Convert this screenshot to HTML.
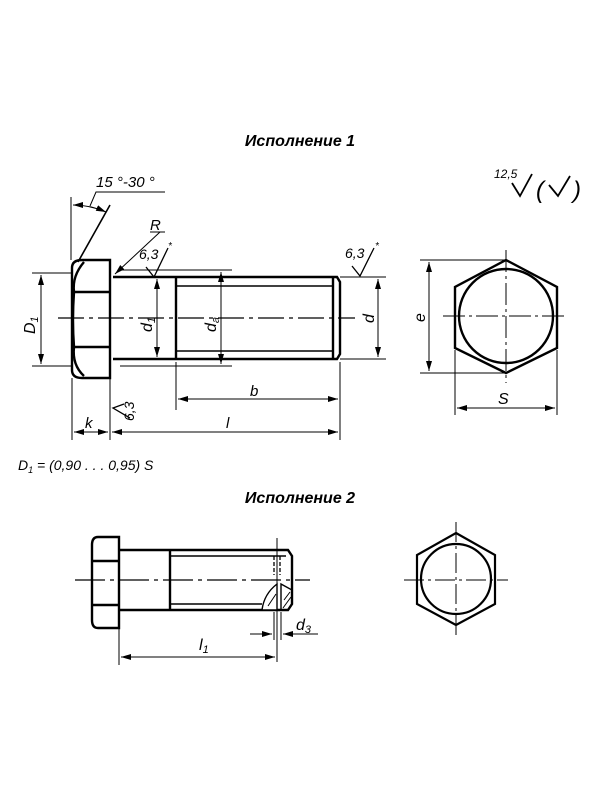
<!DOCTYPE html>
<html><head><meta charset="utf-8"><style>
html,body{margin:0;padding:0;background:#fff;}
svg{display:block}
text{font-family:"Liberation Sans",sans-serif;font-style:italic;fill:#000}
</style></head><body>
<svg width="600" height="785" viewBox="0 0 600 785" xmlns="http://www.w3.org/2000/svg">
<defs>
<marker id="a" viewBox="0 0 10 6" refX="10" refY="3" markerWidth="10" markerHeight="6" orient="auto-start-reverse" markerUnits="userSpaceOnUse"><path d="M0,0L10,3L0,6z" fill="#000"/></marker>
</defs>
<text x="300" y="146" font-size="16" font-weight="bold" text-anchor="middle">Исполнение 1</text>
<text x="300" y="503" font-size="16" font-weight="bold" text-anchor="middle">Исполнение 2</text>
<!-- roughness -->
<text x="494" y="178" font-size="12">12,5</text>
<path d="M512,183 L520,196 L532,174" fill="none" stroke="#000" stroke-width="1.8"/>
<text x="536" y="198" font-size="24">(</text>
<path d="M549,185 L558,196 L570,176" fill="none" stroke="#000" stroke-width="1.8"/>
<text x="573" y="198" font-size="24">)</text>

<g fill="none" stroke="#000">
<!-- view1 bolt -->
<g stroke-width="2.4">
<path d="M82,260 L110,260 L110,378 L82,378 Q72,378 72,370 L72,268 Q72,260 82,260Z"/>
<path d="M72,292 L110,292 M72,347 L110,347"/>
<path d="M74,292 Q72,276 84,262 M74,292 Q72,320 74,347 M74,347 Q72,365 84,376"/>
<path d="M113,277 L337,277 L340,282 L340,354 L337,359 L113,359"/>
<path d="M176,277 L176,359"/>
<path d="M333,277 L333,359"/>
</g>
<path d="M176,286 L333,286 M176,351 L333,351" stroke-width="1.4"/>
<path d="M58,318 L355,318" stroke-width="1.3" stroke-dasharray="26,5,4,5"/>
<!-- dims view1 -->
<g stroke-width="1">
<path d="M32,273 L72,273 M32,366 L72,366"/>
<path d="M41,275 L41,364" marker-start="url(#a)" marker-end="url(#a)"/>
<path d="M157,279 L157,357" marker-start="url(#a)" marker-end="url(#a)"/>
<path d="M120,270 L232,270 M120,366 L232,366"/>
<path d="M221,272 L221,364" marker-start="url(#a)" marker-end="url(#a)"/>
<path d="M340,277 L386,277 M340,359 L386,359"/>
<path d="M378,279 L378,357" marker-start="url(#a)" marker-end="url(#a)"/>
<path d="M176,362 L176,410 M340,362 L340,440 M72,378 L72,440 M110,378 L110,440"/>
<path d="M178,399 L338,399" marker-start="url(#a)" marker-end="url(#a)"/>
<path d="M112,432 L338,432" marker-start="url(#a)" marker-end="url(#a)"/>
<path d="M74,432 L108,432" marker-start="url(#a)" marker-end="url(#a)"/>
<!-- angle -->
<path d="M71,197 L71,260"/>
<path d="M78,262 L110,205" stroke-width="1.6"/>
<path d="M73,205 Q90,205 106,212" marker-start="url(#a)" marker-end="url(#a)"/>
<path d="M90,206 L96,192 L165,192"/>
<!-- R -->
<path d="M160,232 L115,274" marker-end="url(#a)"/>
<path d="M150,232 L165,232"/>
<!-- roughness 6,3 -->
<path d="M146,267 L154,277 L168,248" stroke-width="1.3"/>
<path d="M352,266 L360,276 L374,248" stroke-width="1.3"/>
<path d="M124,404 L113,408 L130,418" stroke-width="1.3"/>
</g>
<!-- hex view1 -->
<g stroke-width="2.4">
<path d="M506,260 L557,287 L557,348 L506,373 L455,348 L455,287Z"/>
<circle cx="506" cy="316" r="47"/>
</g>
<g stroke-width="1">
<path d="M443,316 L568,316 M506,250 L506,383" stroke-dasharray="22,4,3,4"/>
<path d="M420,260 L506,260 M420,373 L506,373"/>
<path d="M429,262 L429,371" marker-start="url(#a)" marker-end="url(#a)"/>
<path d="M455,350 L455,415 M557,350 L557,415"/>
<path d="M457,408 L555,408" marker-start="url(#a)" marker-end="url(#a)"/>
</g>

<!-- view2 -->
<g stroke-width="2.4">
<path d="M98,537 L119,537 L119,628 L98,628 Q92,628 92,620 L92,545 Q92,537 98,537Z"/>
<path d="M92,561 L119,561 M92,605 L119,605"/>
<path d="M119,550 L288,550 L292,556 L292,604 L288,610 L119,610"/>
<path d="M170,550 L170,610"/>
</g>
<path d="M170,556 L286,556 M170,604 L262,604" stroke-width="1.4"/>
<path d="M277,584 Q264,594 262,610 L277,610Z" fill="#fff" stroke-width="1.4"/>
<path d="M281,584 L292,590 L292,604 L288,610 L281,610Z" stroke-width="1.4"/>
<path d="M268,606 L276,594 M284,600 L290,592 M283,608 L291,597" stroke-width="1"/>
<path d="M274,556 L274,575 M280,556 L280,575" stroke-width="1.3" stroke-dasharray="4,2"/>
<path d="M75,580 L310,580" stroke-width="1.3" stroke-dasharray="30,5,4,5"/>
<g stroke-width="1">
<path d="M277,538 L277,662 M274,612 L274,640 M281,612 L281,640 M119,628 L119,665"/>
<path d="M250,634 L272,634" marker-end="url(#a)"/>
<path d="M318,634 L283,634" marker-end="url(#a)"/>
<path d="M121,657 L275,657" marker-start="url(#a)" marker-end="url(#a)"/>
</g>
<g stroke-width="2.2">
<path d="M456,533 L495,555 L495,604 L456,625 L417,604 L417,555Z"/>
<circle cx="456" cy="579" r="35"/>
</g>
<path d="M404,580 L508,580 M456,522 L456,638" stroke-width="1" stroke-dasharray="20,4,3,4"/>
</g>

<text x="96" y="187" font-size="15">15 °-30 °</text>
<text x="150" y="230" font-size="15">R</text>
<text x="139" y="259" font-size="14">6,3</text>
<text x="168" y="249" font-size="10">*</text>
<text x="345" y="258" font-size="14">6,3</text>
<text x="375" y="249" font-size="10">*</text>
<text x="250" y="396" font-size="15">b</text>
<text x="226" y="428" font-size="15">l</text>
<text x="85" y="428" font-size="15">k</text>
<text x="0" y="0" font-size="14" transform="translate(134,421) rotate(-90)">6,3</text>
<text x="0" y="0" font-size="16" transform="translate(35,334) rotate(-90)">D<tspan font-size="11" dy="3">1</tspan></text>
<text x="0" y="0" font-size="16" transform="translate(152,332) rotate(-90)">d<tspan font-size="11" dy="3">1</tspan></text>
<text x="0" y="0" font-size="16" transform="translate(216,332) rotate(-90)">d<tspan font-size="11" dy="3">a</tspan></text>
<text x="0" y="0" font-size="16" transform="translate(374,323) rotate(-90)">d</text>
<text x="0" y="0" font-size="16" transform="translate(425,322) rotate(-90)">e</text>
<text x="498" y="404" font-size="16">S</text>
<text x="18" y="470" font-size="14">D<tspan font-size="9" dy="3">1</tspan><tspan dy="-3"> = (0,90 . . . 0,95) </tspan>S</text>
<text x="199" y="650" font-size="16">l<tspan font-size="11" dy="3">1</tspan></text>
<text x="296" y="630" font-size="16">d<tspan font-size="11" dy="3">3</tspan></text>
</svg>
</body></html>
